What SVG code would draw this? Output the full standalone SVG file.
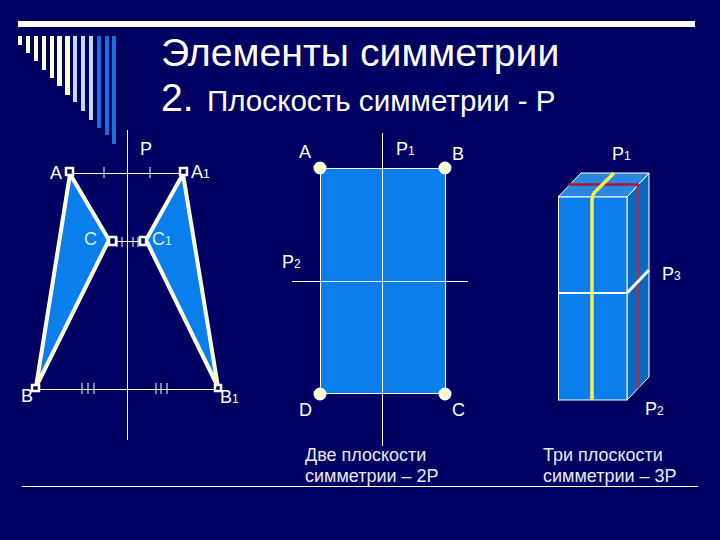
<svg xmlns="http://www.w3.org/2000/svg" width="720" height="540" viewBox="0 0 720 540">
<style>
text{font-family:"Liberation Sans",Arial,sans-serif;fill:#fff;font-size:18px}
.sub{font-size:12px}
.thin{stroke:#fff;stroke-width:1;fill:none}
.tri{fill:#0a7eea;stroke:#fff;stroke-width:4;stroke-linejoin:round}
.tri2{fill:none;stroke:#ffff99;stroke-width:1.2;stroke-linejoin:round}
.sq{fill:#000062;stroke:#fff;stroke-width:2.5}
.dot{fill:#ffffcc;stroke:#fff;stroke-width:2}
.cap{font-size:18px;fill:#e8e8f4}
</style>
<rect width="720" height="540" fill="#000062"/>
<g id="decor">
<rect x="18" y="21" width="677" height="6" fill="#fff"/>
<g fill="#ffffd0">
<rect x="18" y="36" width="4" height="9"/><rect x="26" y="36" width="4" height="17"/><rect x="34" y="36" width="4" height="25"/><rect x="42" y="36" width="4" height="34"/><rect x="50" y="36" width="4" height="42"/><rect x="57" y="36" width="5" height="50"/><rect x="65" y="36" width="5" height="59"/>
</g>
<g fill="#c8d8f8">
<rect x="73" y="36" width="4" height="66"/><rect x="81" y="36" width="4" height="75"/><rect x="89" y="36" width="4" height="84"/>
</g>
<g fill="#1e6ed8">
<rect x="97" y="36" width="4" height="92"/><rect x="105" y="36" width="4" height="99"/><rect x="112" y="36" width="4" height="108"/>
</g>
</g>
<g id="title">
<text x="161" y="66" style="font-size:39.2px">Элементы симметрии</text>
<text x="161" y="111" style="font-size:39.2px">2.</text>
<text x="207" y="111" style="font-size:29.600px">Плоскость симметрии - Р</text>
</g>
<g id="figure-left">
<polygon class="tri" points="70,174 109,240 36,387"/>
<polygon class="tri" points="183,174 146,240 218,387"/>
<polygon class="tri2" points="70,174 109,240 36,387"/>
<polygon class="tri2" points="183,174 146,240 218,387"/>
<path class="thin" d="M127.500 130V440M70 173.500H183M35 389.500H218M112 241.500H143M104 167V178M150 167V178M117 237V247M122 237V247M133 237V247M138 237V247M82 383V394M88 383V394M94 383V394M156 383V394M161 383V394M167 383V394"/>
<rect class="sq" x="66" y="168" width="7" height="7"/>
<rect class="sq" x="180" y="168" width="7" height="7"/>
<rect class="sq" x="109" y="237" width="7" height="8"/>
<rect class="sq" x="140" y="237" width="6" height="8"/>
<rect class="sq" x="32" y="385" width="7" height="6"/>
<rect class="sq" x="215" y="385" width="6" height="6"/>
<text x="140" y="155">Р</text>
<text x="50" y="179">А</text>
<text x="191" y="178">А<tspan class="sub">1</tspan></text>
<text x="84" y="245" style="fill:#d8f0ff">С</text>
<text x="152" y="245" style="fill:#d8f0ff">С<tspan class="sub">1</tspan></text>
<text x="21" y="402">В</text>
<text x="220" y="403">В<tspan class="sub">1</tspan></text>
</g>
<g id="figure-middle">
<rect x="320.500" y="168.500" width="125" height="225" fill="#0a7eea" stroke="#fff"/>
<path class="thin" d="M382.500 133V446M292 281.500H468"/>
<circle class="dot" cx="320" cy="168" r="5.500"/>
<circle class="dot" cx="445" cy="168" r="5.500"/>
<circle class="dot" cx="320" cy="394" r="5.500"/>
<circle class="dot" cx="445" cy="394" r="5.500"/>
<text x="299" y="158">А</text>
<text x="396" y="155">Р<tspan class="sub">1</tspan></text>
<text x="452" y="160">В</text>
<text x="282" y="268">Р<tspan class="sub">2</tspan></text>
<text x="299" y="416">D</text>
<text x="452" y="416">С</text>
<text x="305" y="461" class="cap">Две плоскости</text>
<text x="305" y="482" class="cap">симметрии – 2Р</text>
</g>
<g id="figure-right">
<polygon points="627,197 649,173 649,377 627,400" fill="#0a68be" stroke="#fff" stroke-width="1"/>
<polygon points="558,197 581,173 649,173 627,197" fill="#2a88e0" stroke="#fff" stroke-width="1"/>
<line x1="638" y1="184" x2="638" y2="388" stroke="#8c3c58" stroke-width="3"/>
<rect x="558.500" y="197" width="68.500" height="203" fill="#0a7eea" stroke="#fff"/>
<line x1="568" y1="184.500" x2="639" y2="184.500" stroke="#b01830" stroke-width="2.500"/>
<path d="M592 400V200Q592 194 597 190L614 173" fill="none" stroke="#f4f050" stroke-width="3.500"/>
<path d="M558 293H627" fill="none" stroke="#fff" stroke-width="2"/>
<path d="M627 293L649 270" fill="none" stroke="#fff" stroke-width="3"/>
<text x="612" y="160">Р<tspan class="sub">1</tspan></text>
<text x="662" y="280">Р<tspan class="sub">3</tspan></text>
<text x="645" y="415">Р<tspan class="sub">2</tspan></text>
<text x="543" y="461" class="cap">Три плоскости</text>
<text x="543" y="482" class="cap">симметрии – 3Р</text>
</g>
<line id="baseline" x1="22" y1="486.500" x2="698" y2="486.500" stroke="#fff"/>
</svg>
